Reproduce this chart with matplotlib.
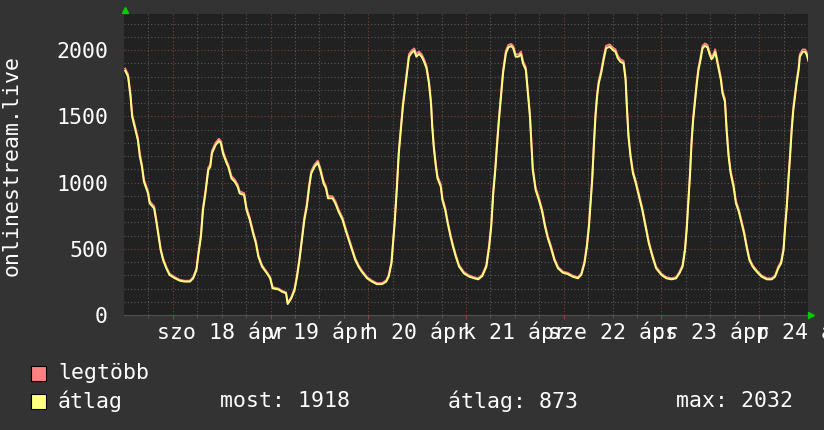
import matplotlib
matplotlib.use('Agg')
import matplotlib.pyplot as plt
from matplotlib.patches import Rectangle
import matplotlib.transforms as mtransforms

# hours since fri 17 apr 12:00
hours = [
    0.3, 1.0, 1.6, 2.0, 2.6, 3.4, 3.9, 4.4, 4.9, 5.9,
    6.3, 7.4, 8.0, 8.5, 9.0, 9.6, 10.4, 11.2, 12.5, 13.7,
    14.9, 16.2, 17.0, 17.8, 18.2, 18.9, 19.4, 20.0, 20.7, 21.2,
    21.6, 22.5, 23.3, 23.8, 24.3, 25.2, 25.6, 26.4, 27.2, 27.9,
    28.4, 29.5, 30.1, 30.9, 31.7, 32.4, 33.0, 33.9, 35.1, 35.9,
    36.5, 37.9, 38.8, 39.8, 40.2, 41.1, 41.9, 42.5, 43.1, 43.7,
    44.3, 44.9, 45.5, 46.0, 46.8, 47.6, 48.2, 49.0, 49.6, 50.1,
    51.2, 51.9, 52.7, 53.7, 54.4, 55.2, 56.0, 56.8, 57.6, 58.4,
    59.7, 60.9, 62.1, 63.4, 64.4, 65.0, 65.7, 66.1, 66.5, 67.0,
    67.5, 68.0, 68.5, 69.0, 69.5, 70.0, 70.7, 71.3, 71.8, 72.5,
    73.1, 73.7, 74.3, 74.9, 75.4, 75.7, 76.1, 76.6, 77.0, 77.8,
    78.2, 78.9, 79.5, 80.2, 80.8, 81.5, 82.3, 83.5, 84.8, 86.0,
    87.0, 88.0, 89.0, 89.7, 90.2, 90.7, 91.2, 91.6, 92.1, 92.6,
    93.1, 93.8, 94.4, 95.1, 95.6, 96.2, 96.9, 97.5, 98.0, 98.7,
    99.2, 99.7, 100.0, 100.4, 101.1, 101.9, 102.7, 103.4, 104.1, 104.9,
    105.7, 106.6, 107.8, 109.0, 110.2, 111.5, 112.3, 113.1, 113.7, 114.2,
    114.6, 115.0, 115.4, 115.8, 116.2, 116.6, 117.2, 117.8, 118.4, 119.3,
    120.1, 120.7, 121.3, 121.9, 122.7, 123.2, 123.5, 123.9, 124.4, 125.0,
    125.7, 126.5, 127.3, 128.1, 128.9, 129.8, 130.7, 132.0, 133.2, 134.5,
    135.6, 136.4, 137.2, 137.8, 138.2, 138.6, 139.0, 139.4, 139.8, 140.2,
    140.7, 141.1, 141.6, 142.1, 142.7, 143.3, 143.8, 144.3, 144.7, 145.2,
    145.6, 146.1, 146.6, 147.0, 147.6, 148.0, 148.5, 149.0, 149.7, 150.3,
    151.0, 151.6, 152.3, 152.9, 153.6, 154.4, 155.4, 156.6, 157.9, 159.1,
    159.9, 160.7, 161.4, 162.0, 162.4, 162.8, 163.2, 163.6, 164.0, 164.4,
    164.8, 165.2, 165.7, 166.0, 166.7, 167.3, 167.7, 168.1,
]

atlag = [
    1844, 1799, 1648, 1497, 1421, 1321, 1195, 1119, 1006, 918,
    843, 805, 692, 591, 491, 415, 352, 302, 277, 259,
    252, 252, 277, 340, 440, 591, 792, 918, 1094, 1119,
    1220, 1283, 1313, 1296, 1220, 1145, 1119, 1031, 1006, 969,
    918, 906, 792, 717, 616, 541, 440, 365, 315, 277,
    201, 193, 176, 164, 83, 126, 189, 289, 415, 566,
    717, 818, 969, 1069, 1119, 1149, 1094, 994, 956, 881,
    881, 843, 780, 717, 642, 566, 491, 415, 365, 327,
    277, 252, 233, 233, 252, 289, 390, 541, 700, 943,
    1220, 1396, 1572, 1698, 1824, 1950, 1980, 1995, 1950, 1970,
    1950, 1912, 1862, 1748, 1597, 1421, 1258, 1119, 1031, 969,
    868, 792, 692, 591, 516, 440, 365, 314, 289, 277,
    269, 294, 365, 516, 667, 918, 1094, 1270, 1472, 1648,
    1824, 1975, 2020, 2030, 2013, 1950, 1950, 1970, 1899, 1849,
    1673, 1497, 1321, 1094, 943, 868, 780, 667, 579, 503,
    415, 352, 319, 309, 289, 277, 302, 390, 516, 667,
    843, 1019, 1270, 1497, 1648, 1748, 1824, 1925, 2013, 2025,
    2000, 1987, 1937, 1912, 1899, 1774, 1572, 1346, 1195, 1069,
    994, 893, 792, 667, 541, 440, 352, 302, 277, 269,
    277, 314, 365, 491, 642, 843, 1044, 1296, 1472, 1597,
    1748, 1849, 1925, 2013, 2032, 2020, 1970, 1930, 1945, 1987,
    1925, 1849, 1774, 1673, 1610, 1396, 1195, 1069, 969, 843,
    780, 704, 616, 516, 415, 365, 327, 289, 269, 269,
    289, 352, 390, 491, 667, 818, 1019, 1195, 1396, 1547,
    1648, 1748, 1849, 1950, 1987, 1987, 1962, 1918,
]

legtobb = [
    1860, 1815, 1668, 1515, 1440, 1338, 1215, 1135, 1022, 935,
    860, 820, 708, 605, 503, 428, 362, 311, 285, 266,
    258, 259, 286, 352, 458, 612, 812, 937, 1112, 1138,
    1240, 1300, 1330, 1312, 1238, 1162, 1135, 1048, 1022, 985,
    934, 920, 810, 733, 632, 556, 453, 376, 324, 285,
    210, 200, 183, 171, 92, 136, 200, 304, 432, 585,
    738, 838, 990, 1088, 1136, 1165, 1112, 1012, 972, 898,
    896, 860, 797, 733, 658, 581, 505, 428, 376, 337,
    286, 260, 240, 241, 261, 300, 405, 560, 722, 966,
    1245, 1420, 1595, 1720, 1845, 1970, 1998, 2012, 1968, 1988,
    1968, 1930, 1880, 1768, 1618, 1442, 1278, 1138, 1048, 986,
    885, 808, 708, 606, 530, 453, 377, 324, 298, 285,
    277, 304, 378, 535, 688, 942, 1118, 1294, 1496, 1670,
    1845, 1995, 2038, 2046, 2030, 1968, 1968, 1988, 1918, 1868,
    1695, 1518, 1342, 1115, 962, 885, 797, 684, 595, 518,
    428, 363, 328, 318, 297, 285, 312, 405, 534, 688,
    865, 1042, 1295, 1520, 1670, 1768, 1845, 1945, 2032, 2042,
    2018, 2005, 1956, 1930, 1918, 1795, 1594, 1368, 1215, 1088,
    1012, 910, 808, 683, 556, 453, 363, 311, 285, 277,
    285, 324, 377, 508, 662, 865, 1068, 1320, 1496, 1620,
    1770, 1870, 1945, 2032, 2050, 2038, 1988, 1948, 1964, 2005,
    1944, 1868, 1793, 1692, 1630, 1418, 1216, 1088, 986, 860,
    797, 720, 632, 531, 428, 376, 337, 298, 277, 277,
    298, 365, 404, 508, 688, 840, 1042, 1218, 1420, 1570,
    1670, 1768, 1868, 1968, 2004, 2004, 1980, 1935,
]

day_labels = ['szo 18 ápr', 'v 19 ápr', 'h 20 ápr', 'k 21 ápr',
              'sze 22 ápr', 'cs 23 ápr', 'p 24 ápr']
y_ticks = [0, 500, 1000, 1500, 2000]
legend_names = ['legtöbb', 'átlag']
legend_colors = ['#ff8080', '#ffff80']
stats = ['most: 1918', 'átlag: 873', 'max: 2032']

W, H = 824, 430
FONT = 'DejaVu Sans Mono'
FS = 15.5
TXT = '#ffffff'

fig = plt.figure(figsize=(W / 100, H / 100), dpi=100, facecolor='#333333')
ax = fig.add_axes([124 / W, 115 / H, 684 / W, 301 / H], facecolor='#212121')
ax.set_xlim(0, 168)
ax.set_ylim(0, 2272)

dots = (0, (1, 2))
for v in range(100, 2300, 100):
    c = '#803c3c' if v % 500 == 0 else '#5a5a5a'
    ax.axhline(v, color=c, lw=0.8, ls=dots, zorder=1)
for h in range(6, 168, 6):
    c = '#803c3c' if (h - 12) % 24 == 0 else '#5a5a5a'
    ax.axvline(h, color=c, lw=0.8, ls=dots, zorder=1)

ax.plot(hours, legtobb, color=legend_colors[0], lw=1.4, zorder=3)
ax.plot(hours, atlag, color=legend_colors[1], lw=1.4, zorder=4)

for s in ['top', 'right', 'left']:
    ax.spines[s].set_visible(False)
ax.spines['bottom'].set_color('#505050')

ax.set_xticks(range(12, 168, 24))
ax.set_xticks(range(6, 168, 6), minor=True)
ax.tick_params(axis='x', which='major', length=3, color='#9a4040', labelbottom=False)
ax.tick_params(axis='x', which='minor', length=2, color='#606060')
ax.set_yticks(y_ticks)
ax.tick_params(axis='y', length=0, pad=11.5, labelcolor=TXT, labelsize=FS)
for lab in ax.get_yticklabels():
    lab.set_family(FONT)

trans = mtransforms.blended_transform_factory(ax.transData, ax.transAxes)
for i, lab in enumerate(day_labels):
    ax.text(24 + 24 * i, -0.056, lab, transform=trans, ha='center', va='center',
            family=FONT, fontsize=FS, color=TXT, clip_on=False)

# rrdtool style axis arrows
ax.plot([0.2], [2302], marker='^', ms=5, color='#00cc00', clip_on=False, zorder=5)
ax.plot([168.8], [0], marker='>', ms=5, color='#00cc00', clip_on=False, zorder=5)

fig.text(12 / W, 1 - 165 / H, 'onlinestream.live', rotation=90, ha='center',
         va='center', family=FONT, fontsize=FS, color=TXT)

# legend
for i, (name, col) in enumerate(zip(legend_names, legend_colors)):
    ytop = 366 + 28 * i
    fig.patches.append(Rectangle((31 / W, 1 - (ytop + 15) / H), 15 / W, 15 / H,
                                 transform=fig.transFigure, facecolor=col,
                                 edgecolor='black', lw=0.8))
    fig.text(58 / W, 1 - (ytop + 7) / H, name, ha='left', va='center',
             family=FONT, fontsize=FS, color=TXT)
for x, s in zip([220, 448, 676], stats):
    fig.text(x / W, 1 - 401 / H, s, ha='left', va='center',
             family=FONT, fontsize=FS, color=TXT)

fig.savefig('out.png', dpi=100, facecolor=fig.get_facecolor())
